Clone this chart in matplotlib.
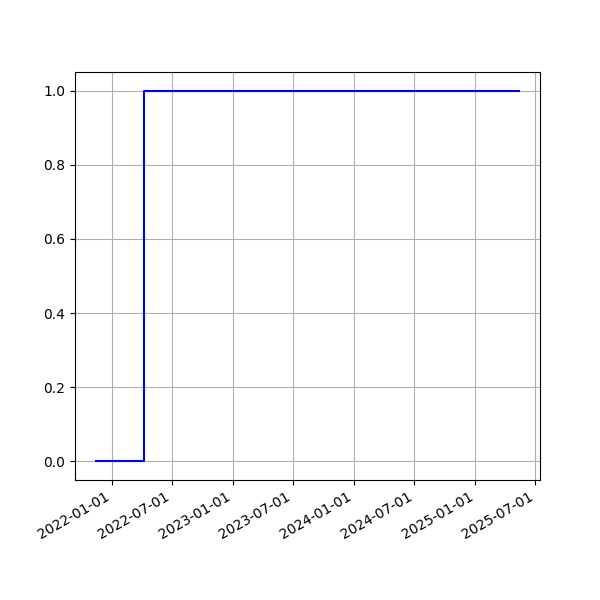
import matplotlib
matplotlib.use('Agg')
import matplotlib.pyplot as plt
import matplotlib.dates as mdates
import pandas as pd

# step series: value switches from 0 to 1
dates = pd.to_datetime(['2021-11-14', '2022-04-06', '2025-05-12'])
values = [0, 1, 1]

fig, ax = plt.subplots(figsize=(6, 6), dpi=100)
ax.plot(dates, values, color='blue', drawstyle='steps-post')
ax.xaxis.set_major_locator(mdates.MonthLocator(bymonth=[1, 7]))
ax.xaxis.set_major_formatter(mdates.DateFormatter('%Y-%m-%d'))
ax.grid(True)
fig.autofmt_xdate()
fig.savefig('out.png')
